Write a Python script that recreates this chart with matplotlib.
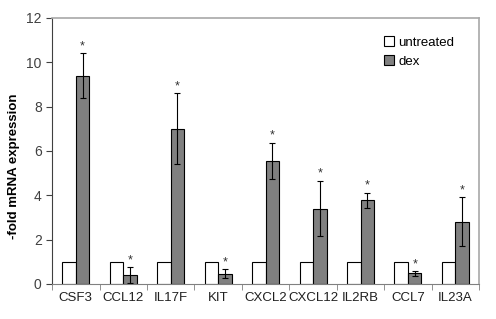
import numpy as np
import matplotlib.pyplot as plt

plt.rcParams['font.family'] = ['Liberation Sans', 'DejaVu Sans']

genes = ['CSF3', 'CCL12', 'IL17F', 'KIT', 'CXCL2', 'CXCL12', 'IL2RB', 'CCL7', 'IL23A']
untreated = [1, 1, 1, 1, 1, 1, 1, 1, 1]
dex = [9.4, 0.4, 7.0, 0.45, 5.55, 3.4, 3.77, 0.47, 2.8]
dex_err = [1.0, 0.35, 1.6, 0.2, 0.82, 1.25, 0.35, 0.1, 1.1]

fig = plt.figure(figsize=(4.96, 3.19), dpi=100)
ax = fig.add_axes([0.105, 0.11, 0.861, 0.834])

x = np.arange(len(genes))
w = 0.285
ax.bar(x - w / 2, untreated, w, color='white', edgecolor='black', linewidth=0.8, label='untreated')
ax.bar(x + w / 2, dex, w, color='#808080', edgecolor='black', linewidth=0.8, label='dex')
ax.errorbar(x + w / 2, dex, yerr=dex_err, fmt='none', ecolor='black', elinewidth=0.8, capsize=2.5, capthick=0.8)

for xi, v, e in zip(x, dex, dex_err):
    ax.text(xi + w / 2, v + e + 0.05, '*', ha='center', va='bottom', fontsize=9, color='#333333')

ax.set_xlim(-0.5, len(genes) - 0.5)
ax.set_ylim(0, 12)
ax.set_yticks(range(0, 13, 2))
ax.set_xticks(x)
ax.set_xticklabels(genes, fontsize=9.5, color='#202020')
ax.set_xticks(np.arange(-0.5, len(genes), 1), minor=True)
ax.tick_params(axis='x', which='major', length=0, pad=6)
ax.tick_params(axis='x', which='minor', length=4, color='#808080', direction='out')
ax.tick_params(axis='y', labelsize=10, length=4, direction='out', colors='#404040')
ax.set_ylabel('-fold mRNA expression', fontsize=9.5, fontweight='bold')
ax.yaxis.set_label_coords(-0.075, 0.444)

for s in ['top', 'right']:
    ax.spines[s].set_color('#a8a8a8')
    ax.spines[s].set_linewidth(1.2)
ax.spines['bottom'].set_color('#808080')
ax.spines['left'].set_color('#404040')

ax.legend(loc='upper right', bbox_to_anchor=(0.97, 0.975), frameon=False, fontsize=9.5,
          handlelength=0.8, handleheight=0.8, handletextpad=0.3, labelspacing=0.45)

fig.savefig('out.png', dpi=100)
